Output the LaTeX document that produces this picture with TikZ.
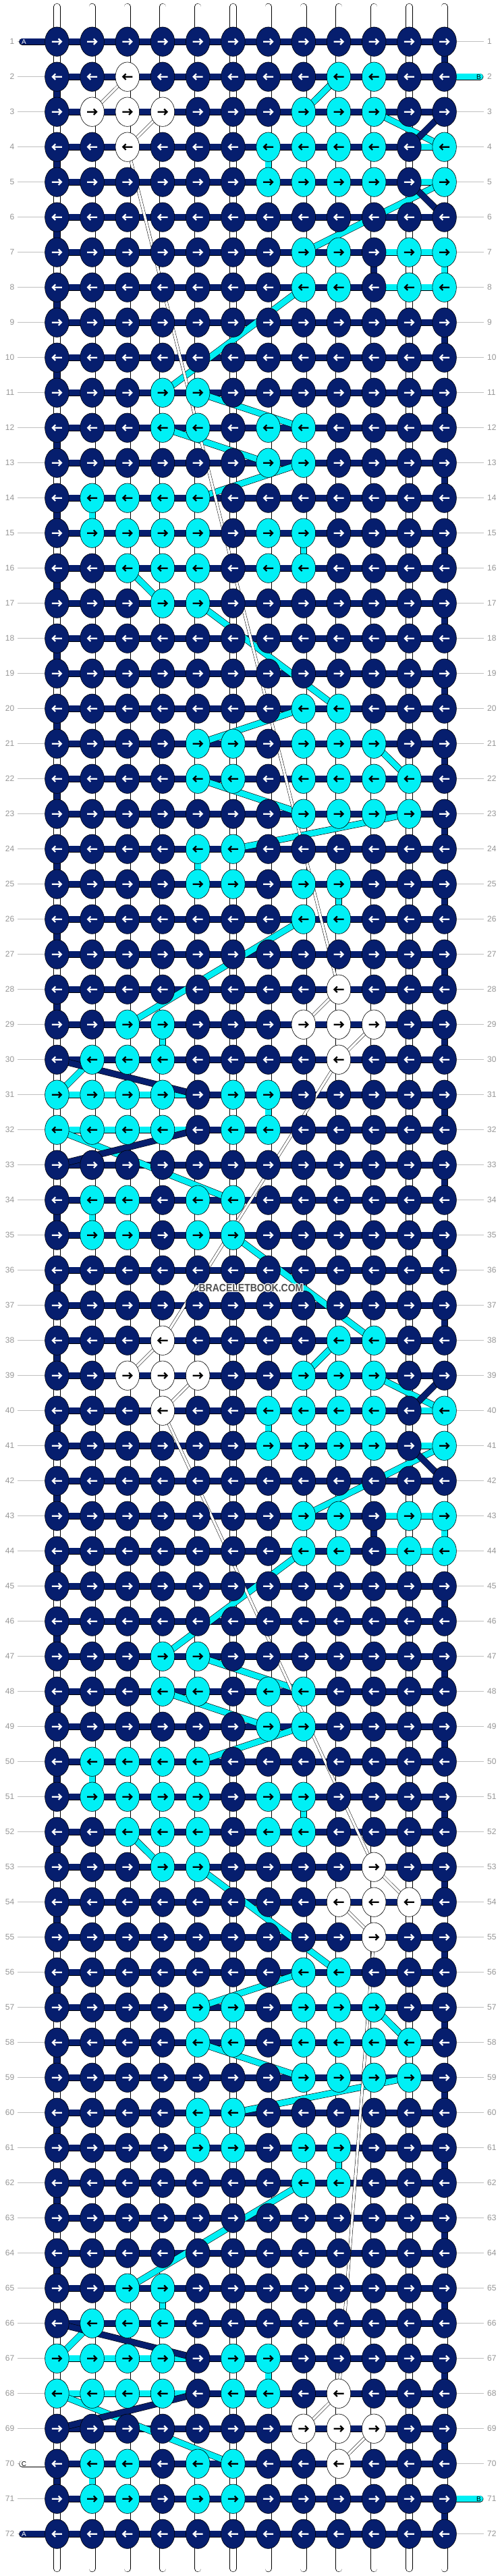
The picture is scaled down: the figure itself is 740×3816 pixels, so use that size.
\documentclass[tikz,border=0pt]{standalone}
\usepackage{fontspec}
\setmainfont{Liberation Sans}
\usetikzlibrary{shapes.geometric}
\definecolor{navyk}{RGB}{6,30,110}
\definecolor{cyank}{RGB}{0,240,245}
\definecolor{lblgray}{RGB}{150,150,150}
\definecolor{linegray}{RGB}{192,192,192}
\definecolor{wmgray}{RGB}{80,80,80}
\pgfdeclarelayer{bgfill}
\pgfdeclarelayer{strands}
\pgfdeclarelayer{bars}
\pgfdeclarelayer{diags}
\pgfsetlayers{bgfill,strands,bars,diags,main}

\def\colC{cyank}
\def\colW{white}
\def\navyname{navyk}
\newcommand\kset[2]{\foreach \cc/\kk in {#2}{\expandafter\xdef\csname kc-\cc-#1\endcsname{\csname col\kk\endcsname}}}
\kset{2}{3/W,9/C,10/C}
\kset{3}{2/W,3/W,4/W,8/C,9/C,10/C}
\kset{4}{3/W,7/C,8/C,9/C,10/C,12/C}
\kset{5}{7/C,8/C,9/C,10/C,12/C}
\kset{7}{8/C,9/C,11/C,12/C}
\kset{8}{8/C,9/C,11/C,12/C}
\kset{11}{4/C,5/C}
\kset{12}{4/C,5/C,7/C,8/C}
\kset{13}{7/C,8/C}
\kset{14}{2/C,3/C,4/C,5/C}
\kset{15}{2/C,3/C,4/C,5/C,7/C,8/C}
\kset{16}{3/C,4/C,5/C,7/C,8/C}
\kset{17}{4/C,5/C}
\kset{20}{8/C,9/C}
\kset{21}{5/C,6/C,8/C,9/C,10/C}
\kset{22}{5/C,6/C,8/C,9/C,10/C,11/C}
\kset{23}{8/C,9/C,10/C,11/C}
\kset{24}{5/C,6/C}
\kset{25}{5/C,6/C,8/C,9/C}
\kset{26}{8/C,9/C}
\kset{28}{9/W}
\kset{29}{3/C,4/C,8/W,9/W,10/W}
\kset{30}{2/C,3/C,4/C,9/W}
\kset{31}{1/C,2/C,3/C,4/C,6/C,7/C}
\kset{32}{1/C,2/C,3/C,4/C,6/C,7/C}
\kset{34}{2/C,3/C,5/C,6/C}
\kset{35}{2/C,3/C,5/C,6/C}
\kset{38}{4/W,9/C,10/C}
\kset{39}{3/W,4/W,5/W,8/C,9/C,10/C}
\kset{40}{4/W,7/C,8/C,9/C,10/C,12/C}
\kset{41}{7/C,8/C,9/C,10/C,12/C}
\kset{43}{8/C,9/C,11/C,12/C}
\kset{44}{8/C,9/C,11/C,12/C}
\kset{47}{4/C,5/C}
\kset{48}{4/C,5/C,7/C,8/C}
\kset{49}{7/C,8/C}
\kset{50}{2/C,3/C,4/C,5/C}
\kset{51}{2/C,3/C,4/C,5/C,7/C,8/C}
\kset{52}{3/C,4/C,5/C,7/C,8/C}
\kset{53}{4/C,5/C,10/W}
\kset{54}{9/W,10/W,11/W}
\kset{55}{10/W}
\kset{56}{8/C,9/C}
\kset{57}{5/C,6/C,8/C,9/C,10/C}
\kset{58}{5/C,6/C,8/C,9/C,10/C,11/C}
\kset{59}{8/C,9/C,10/C,11/C}
\kset{60}{5/C,6/C}
\kset{61}{5/C,6/C,8/C,9/C}
\kset{62}{8/C,9/C}
\kset{65}{3/C,4/C}
\kset{66}{2/C,3/C,4/C}
\kset{67}{1/C,2/C,3/C,4/C,6/C,7/C}
\kset{68}{1/C,2/C,3/C,4/C,6/C,7/C,9/W}
\kset{69}{8/W,9/W,10/W}
\kset{70}{2/C,3/C,5/C,6/C,9/W}
\kset{71}{2/C,3/C,5/C,6/C}
\newcommand\wmtext{\scalebox{0.875}[1]{BRACELETBOOK.COM}}

\begin{document}
\begin{tikzpicture}[x=1pt,y=-1pt,
  knot/.style={ellipse,draw=black,line width=0.6pt,minimum width=35.6pt,minimum height=43.4pt,inner sep=0pt},
  arrR/.pic={\draw[line width=2.2pt,line join=miter] (-7.5,0) -- (6,0) (2.2,-4.3) -- (6.5,0) -- (2.2,4.3);},
  arrL/.pic={\draw[line width=2.2pt,line join=miter] (7.5,0) -- (-6,0) (-2.2,-4.3) -- (-6.5,0) -- (-2.2,4.3);},
  band/.style={draw=black,line width=0.6pt,double distance=8.6pt},
  barN/.style={band,double=navyk},
  barC/.style={band,double=cyank},
  vstub/.style={draw=black,line width=0.6pt,double=white,double distance=9pt},
  cstrand/.style={draw=black,line width=0.5pt,double=white,double distance=3.5pt},
  glin/.style={draw=linegray,line width=1pt},
  lbl/.style={text=lblgray,font=\fontsize{12}{12}\selectfont,inner sep=0pt},
  stubN/.style={band,double=navyk,line cap=round},
  stubC/.style={band,double=cyank,line cap=round},
  stubW/.style={band,double=white,line cap=round},
  stublbl/.style={font=\fontsize{10}{10}\selectfont,inner sep=0pt},
  wm/.style={font=\fontsize{16}{16}\selectfont\bfseries,inner sep=0pt}]
\useasboundingbox (0,0) rectangle (740,3816);
\begin{pgfonlayer}{bgfill}
\fill[white] (0,0) rectangle (740,3816);
\end{pgfonlayer}

% knots
\foreach \rr in {1,...,72}{
  \foreach \cc in {1,...,12}{
    \ifcsname kc-\cc-\rr\endcsname
      \edef\kfill{\csname kc-\cc-\rr\endcsname}%
    \else
      \def\kfill{navyk}%
    \fi
    \ifx\kfill\navyname \def\kacol{white}\else \def\kacol{black}\fi
    \node[knot,fill=\kfill] (k-\cc-\rr) at ({84.4+52.2*(\cc-1)},{61.7+52*(\rr-1)}) {};
    \ifodd\rr\relax \pic[color=\kacol] at (k-\cc-\rr) {arrR};\else \pic[color=\kacol] at (k-\cc-\rr) {arrL};\fi
  }
}

% row labels
\foreach \rr in {1,...,72}{
  \node[lbl,anchor=east] (ll-\rr) at (21.5,{61.7+52*(\rr-1)}) {\rr};
  \node[lbl,anchor=west] (rl-\rr) at (722,{61.7+52*(\rr-1)}) {\rr};
  \coordinate (gl-\rr) at (26,{61.7+52*(\rr-1)});
  \coordinate (gr-\rr) at (717,{61.7+52*(\rr-1)});
}

% base strands
\begin{pgfonlayer}{strands}
\foreach \rr in {1,...,72}{
  \draw[glin] (gl-\rr) -- (k-1-\rr.center);
  \draw[glin] (k-12-\rr.center) -- (gr-\rr);
}
\foreach \cc in {1,...,12}{
  \coordinate (top-\cc) at ({84.4+52.2*(\cc-1)},10);
  \coordinate (bot-\cc) at ({84.4+52.2*(\cc-1)},3805);
  \draw[vstub,line cap=round] (top-\cc) -- (bot-\cc);
}
\end{pgfonlayer}

% horizontal bars, turnarounds, stubs
\begin{pgfonlayer}{bars}
\foreach \rr in {1,...,72}{
  \draw[barN] (k-1-\rr.center) -- (k-12-\rr.center);
}
\foreach \rr in {1,9,11,...,37,45,47,...,71}{
  \pgfmathtruncatemacro\rn{\rr+1}
  \draw[barN] (k-12-\rr.center) -- (k-12-\rn.center);
}
\foreach \rr in {2,4,...,28,34,36,...,64,70}{
  \pgfmathtruncatemacro\rn{\rr+1}
  \draw[barN] (k-1-\rr.center) -- (k-1-\rn.center);
}
\foreach \off in {0,36}{
  \pgfmathtruncatemacro\ra{7+\off}\pgfmathtruncatemacro\rb{8+\off}
  \draw[barN] (k-10-\ra.center) -- (k-10-\rb.center);
  \foreach \ca/\cb/\rr in {11/12/4,11/12/5,10/11/7,11/12/7,10/11/8,11/12/8,1/2/31,2/3/31,3/4/31,4/5/31,1/2/32,2/3/32,3/4/32,4/5/32}{
    \pgfmathtruncatemacro\rx{\rr+\off}
    \draw[barC] (k-\ca-\rx.center) -- (k-\cb-\rx.center);
  }
  \foreach \ca/\rr in {7/4,12/7,2/14,8/15,5/24,9/25,4/29,7/31,2/34}{
    \pgfmathtruncatemacro\rx{\rr+\off}\pgfmathtruncatemacro\ry{\rr+\off+1}
    \draw[barC] (k-\ca-\rx.center) -- (k-\ca-\ry.center);
  }
}
% end stubs
\coordinate (sa1) at (33,61.7);
\coordinate (sa72) at (33,3753.7);
\coordinate (sc70) at (33,3649.7);
\coordinate (sb2) at (711.5,113.7);
\coordinate (sb71) at (711.5,3701.7);
\draw[stubN] (sa1) -- (k-1-1.center);
\draw[stubN] (sa72) -- (k-1-72.center);
\draw[stubW] (sc70) -- (k-1-70.center);
\draw[stubC] (k-12-2.center) -- (sb2);
\draw[stubC] (k-12-71.center) -- (sb71);
\end{pgfonlayer}

% diagonal strands
\begin{pgfonlayer}{diags}
\foreach \off in {0,36}{
  \foreach \ca/\ra/\cb/\rb in {9/2/8/3,10/3/12/4,12/5/8/7,8/8/4/11,5/11/8/12,4/12/7/13,8/13/5/14,3/16/4/17,5/17/9/20,8/20/5/21,10/21/11/22,5/22/8/23,11/23/6/24,8/26/3/29,2/30/1/31,1/32/6/34}{
    \pgfmathtruncatemacro\rx{\ra+\off}\pgfmathtruncatemacro\ry{\rb+\off}
    \draw[barC] (k-\ca-\rx.center) -- (k-\cb-\ry.center);
  }
}
\draw[barC] (k-6-35.center) -- (k-10-38.center);
\foreach \off in {0,36}{
  \foreach \ca/\ra/\cb/\rb in {12/3/11/4,11/5/12/6,1/30/5/31,5/32/1/33}{
    \pgfmathtruncatemacro\rx{\ra+\off}\pgfmathtruncatemacro\ry{\rb+\off}
    \draw[barN] (k-\ca-\rx.center) -- (k-\cb-\ry.center);
  }
}
\foreach \ca/\ra/\cb/\rb in {3/2/2/3,4/3/3/4,3/4/9/28,9/28/8/29,10/29/9/30,9/30/4/38,4/38/3/39,5/39/4/40,4/40/10/53,10/53/11/54,9/54/10/55,10/55/9/68,9/68/8/69,10/69/9/70}{
  \draw[cstrand] (k-\ca-\ra.center) -- (k-\cb-\rb.center);
}
\end{pgfonlayer}

% strand letters
\node[stublbl,text=white] (la1) at (35.5,61.7) {A};
\node[stublbl,text=white] (la72) at (35.5,3753.7) {A};
\node[stublbl,text=black] (lc70) at (35.5,3649.7) {C};
\node[stublbl,text=black] (lb2) at (709.5,113.7) {B};
\node[stublbl,text=black] (lb71) at (709.5,3701.7) {B};

% watermark
\foreach \dx/\dy [count=\i] in {-1.2/0,1.2/0,0/-1.2,0/1.2,-0.9/-0.9,0.9/-0.9,-0.9/0.9,0.9/0.9}{
  \node[wm,text=white] (wmh-\i) at ({372+\dx},{1908+\dy}) {\wmtext};
}
\node[wm,text=wmgray] (wm) at (372,1908) {\wmtext};
\end{tikzpicture}
\end{document}
